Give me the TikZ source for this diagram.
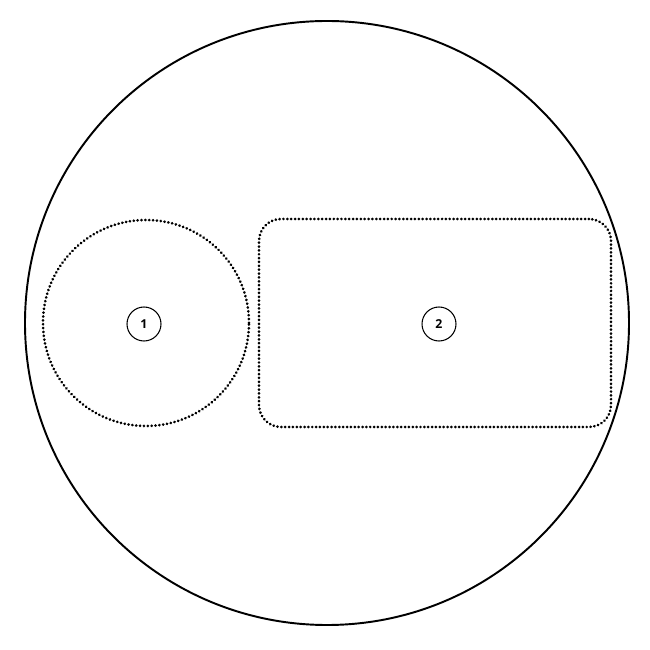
\documentclass[tikz,border=0pt]{standalone}
\usepackage{fontspec}
\setmainfont{Open Sans}
\usetikzlibrary{positioning}
\tikzset{
outer/.style={draw, circle, line width=1.1pt, minimum size=12.08cm, inner sep=0pt}, % the big enclosing circle
zone/.style={draw, line width=1.6pt, dash pattern=on 0.1pt off 2.1pt, line cap=round, inner sep=0pt}, % dotted regions
marker/.style={draw, circle, line width=0.6pt, minimum size=0.68cm, inner sep=0pt, font=\fontsize{7}{8}\selectfont\bfseries}, % numbered labels
}
\begin{document}
\begin{tikzpicture}
    \useasboundingbox (-6.5,-6.5) rectangle (6.5,6.5);
    \node[outer] (world) at (0.04,0.04) {};
    \node[zone, circle, minimum size=4.12cm] (zone1) at (-3.58,0.04) {};
    \node[zone, rectangle, rounded corners=0.44cm, minimum width=7.04cm, minimum height=4.16cm] (zone2) at (2.2,0.04) {};
    \node[marker] (m1) at (-3.62,0.02) {1};
    \node[marker] (m2) at (2.28,0.02) {2};
\end{tikzpicture}
\end{document}
